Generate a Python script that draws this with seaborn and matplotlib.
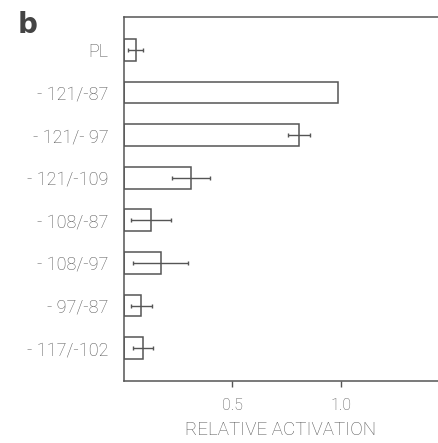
import pandas as pd
import seaborn as sns
import matplotlib.pyplot as plt

# --- data ---
constructs = ["PL", "- 121/-87", "- 121/- 97", "- 121/-109", "- 108/-87",
              "- 108/-97", "- 97/-87", "- 117/-102"]
activation = [0.055, 0.99, 0.81, 0.31, 0.125, 0.17, 0.08, 0.087]
error = [0.035, 0.0, 0.051, 0.089, 0.091, 0.127, 0.049, 0.046]
xticks = [0.5, 1.0]
xtick_labels = ["0.5", "1.0"]

df = pd.DataFrame({"construct": constructs, "activation": activation, "err": error})

sns.set_style("ticks")
plt.rcParams['font.family'] = ['Roboto', 'DejaVu Sans']
plt.rcParams['font.weight'] = 'light'
plt.rcParams['axes.labelweight'] = 'light'
ink = "#555555"
txt = "#555555"

fig = plt.figure(figsize=(4.38, 4.43), dpi=100)
ax = fig.add_axes([124 / 438, 62 / 443, 1 - 124 / 438, 364 / 443])

sns.barplot(data=df, x="activation", y="construct", orient="h", fill=False,
            color=ink, linewidth=1.1, width=0.51, errorbar=None, ax=ax)
# error bars (values are precomputed means +/- sd)
has_err = df["err"] > 0
ax.errorbar(df.loc[has_err, "activation"], df.index[has_err], xerr=df.loc[has_err, "err"],
            fmt="none", ecolor=ink, elinewidth=1.0, capsize=1.5, capthick=1.0)

ax.set_xlim(0, 1.45)
ax.set_ylim(7.77, -0.77)
ax.set_xticks(xticks)
ax.set_xticklabels(xtick_labels, fontsize=11.5, color=txt)
ax.tick_params(axis="x", length=4, width=1, color=ink, pad=8)
ax.tick_params(axis="y", length=0, pad=11, labelsize=13, labelcolor=txt)
ax.set_xlabel("RELATIVE ACTIVATION", fontsize=13.5, color=txt, fontweight="light", labelpad=6)
ax.set_ylabel("")

for side in ["left", "bottom", "top"]:
    ax.spines[side].set_color(ink)
    ax.spines[side].set_linewidth(1.1)
ax.spines["right"].set_visible(False)

fig.text(18 / 438, 1 - 33 / 443, "b", fontsize=20, fontweight="bold", color="#444444",
         family=["DejaVu Sans"], va="baseline")

fig.savefig("out.png", dpi=100)
